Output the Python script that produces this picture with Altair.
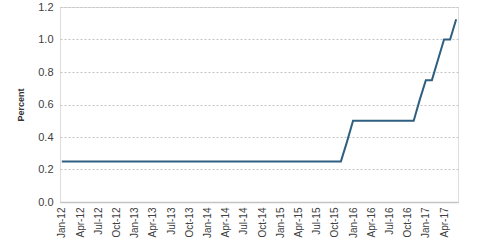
import altair as alt
import pandas as pd

months = []
for yr in range(12, 18):
    for m in ["Jan", "Feb", "Mar", "Apr", "May", "Jun", "Jul", "Aug", "Sep", "Oct", "Nov", "Dec"]:
        months.append(f"{m}-{yr}")
months = months[: months.index("Jun-17") + 1]

rates = (
    [0.25] * 47          # Jan-12 .. Nov-15
    + [0.37]             # Dec-15
    + [0.5] * 11         # Jan-16 .. Nov-16
    + [0.63]             # Dec-16
    + [0.75, 0.75]       # Jan-17, Feb-17
    + [0.875]            # Mar-17
    + [1.0, 1.0]         # Apr-17, May-17
    + [1.125]            # Jun-17
)

tick_labels = [m for m in months if m[:3] in ("Jan", "Apr", "Jul", "Oct")]

df = pd.DataFrame({"month": months, "rate": rates})

chart = (
    alt.Chart(df)
    .mark_line(color="#2f5f80", strokeWidth=2)
    .encode(
        x=alt.X(
            "month:O",
            sort=months,
            title=None,
            scale=alt.Scale(type="point", padding=0.3),
            axis=alt.Axis(
                values=tick_labels,
                labelAngle=270,
                labelFont="Liberation Sans",
                labelFontSize=10,
                labelColor="#404040",
                ticks=False,
                domainColor="#c4c4c4",
                domainWidth=1.5,
                labelPadding=5,
                grid=False,
            ),
        ),
        y=alt.Y(
            "rate:Q",
            title="Percent",
            scale=alt.Scale(domain=[0, 1.2]),
            axis=alt.Axis(
                values=[0, 0.2, 0.4, 0.6, 0.8, 1.0, 1.2],
                format=".1f",
                domain=False,
                ticks=False,
                labelFont="Liberation Sans",
                labelFontSize=11,
                labelColor="#404040",
                labelPadding=7,
                gridColor="#c4c4c4",
                gridDash=[2, 2],
                titleFont="Liberation Sans",
                titleFontSize=9,
                titleFontWeight="bold",
                titleColor="#333333",
                titlePadding=12,
            ),
        ),
    )
    .properties(
        width=398,
        height=195,
        autosize=alt.AutoSizeParams(type="none"),
        padding={"left": 60, "top": 7, "right": 22, "bottom": 49},
    )
    .configure_view(stroke=None)
    .configure(background="white")
)

chart.save("out.html", embed_options={"renderer": "svg", "actions": False})
